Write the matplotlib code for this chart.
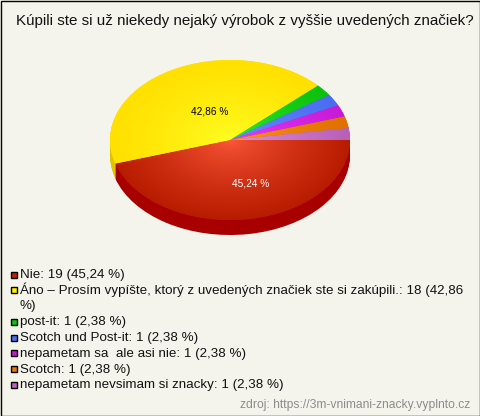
import numpy as np
import matplotlib
matplotlib.use('Agg')
import matplotlib.pyplot as plt
from matplotlib.colors import to_rgb
from matplotlib.patches import Rectangle

plt.rcParams['font.family'] = ['Liberation Sans', 'DejaVu Sans']

title = 'Kúpili ste si už niekedy nejaký výrobok z vyššie uvedených značiek?'
values = [19, 18, 1, 1, 1, 1, 1]
legend_rows = [
    ['Nie: 19 (45,24 %)'],
    ['Áno – Prosím vypíšte, ktorý z uvedených značiek ste si zakúpili.: 18 (42,86', '%)'],
    ['post-it: 1 (2,38 %)'],
    ['Scotch und Post-it: 1 (2,38 %)'],
    ['nepametam sa  ale asi nie: 1 (2,38 %)'],
    ['Scotch: 1 (2,38 %)'],
    ['nepametam nevsimam si znacky: 1 (2,38 %)'],
]
source = 'zdroj: https://3m-vnimani-znacky.vyplnto.cz'

legend_colors = ['#c02000', '#ffee00', '#10c010', '#4a70f0', '#c818d0', '#e87800', '#c060c0']
inner_colors = ['#ff5a3c', '#ffff24', '#30f030', '#7090ff', '#f040ff', '#ff9a20', '#e496e4']
outer_colors = ['#b81c00', '#ffe000', '#0cc00c', '#4a6cf0', '#c818d8', '#e07000', '#b860b8']
side_colors = ['#a80000', '#e0c400', '#0a9a0a', '#3a58c0', '#a010b0', '#b85c00', '#985098']

W, H = 480, 416
cx, cy, rx, ry, depth = 230, 140, 120, 80, 15
pad = 4

fig = plt.figure(figsize=(W / 100, H / 100), dpi=100, facecolor='#f5f4ec')

# pie axes, stretched so the circle comes out as an ellipse
left, right = cx - rx - pad, cx + rx + pad
top, bottom = cy - ry - pad, cy + ry + depth + pad
ax = fig.add_axes([left / W, 1 - bottom / H, (right - left) / W, (bottom - top) / H])

# side of the pie: stacked darker copies
for d in range(depth, 0, -1):
    ax.pie(values, colors=side_colors, startangle=0, counterclock=False,
           center=(0, -d / ry), wedgeprops={'linewidth': 0})

wedges, _ = ax.pie(values, colors=outer_colors, startangle=0, counterclock=False,
                   wedgeprops={'linewidth': 0})

xs = np.linspace(-1, 1, 500)
X, Y = np.meshgrid(xs, xs)
R = np.clip(np.sqrt(X ** 2 + Y ** 2), 0, 1)[..., None] ** 0.7
for w, c0, c1 in zip(wedges, inner_colors, outer_colors):
    grad = np.array(to_rgb(c0)) * (1 - R) + np.array(to_rgb(c1)) * R
    im = ax.imshow(grad, extent=(-1, 1, -1, 1), origin='lower', aspect='auto', zorder=3)
    im.set_clip_path(w)

ax.set_aspect('auto')
ax.set_xlim(-1 - pad / rx, 1 + pad / rx)
ax.set_ylim(-1 - (depth + pad) / ry, 1 + pad / ry)
ax.axis('off')

# overlay in pixel coordinates for all the text
ov = fig.add_axes([0, 0, 1, 1], facecolor='none')
ov.set_xlim(0, W)
ov.set_ylim(H, 0)
ov.axis('off')
ov.add_patch(Rectangle((0.5, 0.5), W - 1, H - 1, fill=False, ec='#000000', lw=1))

ov.text(245, 25, title, fontsize=10.9, color='#111111', ha='center', va='baseline')
ov.text(209.5, 114, '42,86 %', fontsize=7.3, color='#000000', ha='center', va='baseline')
ov.text(250.5, 187, '45,24 %', fontsize=7.3, color='#ffffff', ha='center', va='baseline')

y = 278
for row, c in zip(legend_rows, legend_colors):
    ov.add_patch(Rectangle((10.5, y - 6.5), 6, 6, fc=c, ec='#000000', lw=1))
    for line in row:
        ov.text(20, y, line, fontsize=9.62, color='#111111', ha='left', va='baseline')
        y += 15.75

ov.text(470, 408, source, fontsize=8.75, color='#8c8c8c', ha='right', va='baseline')

fig.savefig('out.png', dpi=100, facecolor=fig.get_facecolor())
